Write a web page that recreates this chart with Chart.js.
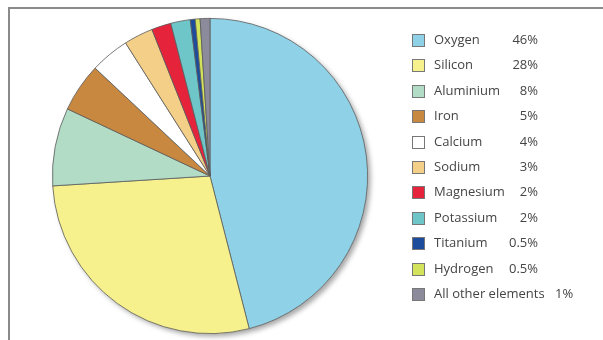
<!DOCTYPE html>
<html>
<head>
<meta charset="utf-8">
<script src="https://cdn.jsdelivr.net/npm/chart.js@4.4.1/dist/chart.umd.min.js"></script>
<style>
  html, body { margin: 0; padding: 0; background: #fff; }
  #wrap { position: relative; width: 603px; height: 340px; overflow: hidden; }
  #frame { position: absolute; left: 8px; top: 7px; width: 600px; height: 340px;
           border-left: 2px solid #8a8a8a; border-top: 2px solid #8a8a8a; }
  canvas { position: absolute; left: 0; top: 0; }
  #legend { position: absolute; left: 412px; top: 0; font-family: "Open Sans", sans-serif;
            font-size: 13px; color: #454545; }
  .row { position: absolute; left: 0; height: 16px; white-space: nowrap; }
  .box { position: absolute; left: 0; top: 2px; width: 11px; height: 11px; border: 1px solid #777; }
  .name { position: absolute; left: 22px; top: -2px; }
  .val { position: absolute; right: -126px; top: -2px; text-align: right; }
</style>
</head>
<body>
<div id="wrap">
  <div id="frame"></div>
  <canvas id="pie" width="603" height="340"></canvas>
  <div id="legend"></div>
</div>
<script>
// data
const elements = ['Oxygen', 'Silicon', 'Aluminium', 'Iron', 'Calcium', 'Sodium',
  'Magnesium', 'Potassium', 'Titanium', 'Hydrogen', 'All other elements'];
const percents = [46, 28, 8, 5, 4, 3, 2, 2, 0.5, 0.5, 1];
const colours = ['#8fd2e8', '#f6f18c', '#b2dcc6', '#c98840', '#ffffff', '#f4cf88',
  '#e5233b', '#6fc6c9', '#1d4c9c', '#d4e35c', '#8b8b9b'];

// legend (html, built from the arrays)
const legend = document.getElementById('legend');
elements.forEach((name, i) => {
  const row = document.createElement('div');
  row.className = 'row';
  row.style.top = (32 + i * 25.4) + 'px';
  const box = document.createElement('div');
  box.className = 'box';
  box.style.background = colours[i];
  row.appendChild(box);
  const label = document.createElement('span');
  label.className = 'name';
  label.textContent = name;
  row.appendChild(label);
  const val = document.createElement('span');
  val.textContent = percents[i] + '%';
  if (i === elements.length - 1) {
    // last row: value follows the long name
    val.style.position = 'absolute';
    val.style.left = '143px';
    val.style.top = '-2px';
  } else {
    val.className = 'val';
  }
  row.appendChild(val);
  legend.appendChild(row);
});

// soft shadow behind the pie
const pieShadow = {
  id: 'pieShadow',
  beforeDatasetsDraw(chart) {
    const arc = chart.getDatasetMeta(0).data[0];
    if (!arc) return;
    const ctx = chart.ctx;
    ctx.save();
    ctx.shadowColor = 'rgba(0,0,0,0.35)';
    ctx.shadowBlur = 5;
    ctx.shadowOffsetX = 3;
    ctx.shadowOffsetY = 3;
    ctx.fillStyle = '#fff';
    ctx.beginPath();
    ctx.arc(arc.x, arc.y, arc.outerRadius, 0, Math.PI * 2);
    ctx.fill();
    ctx.restore();
  }
};

new Chart(document.getElementById('pie'), {
  type: 'pie',
  data: {
    labels: elements,
    datasets: [{
      data: percents,
      backgroundColor: colours,
      borderColor: '#5a5a5a',
      borderWidth: 0.8
    }]
  },
  options: {
    responsive: false,
    animation: false,
    layout: { padding: { left: 52, right: 235, top: 18, bottom: 6 } },
    plugins: {
      legend: { display: false },
      tooltip: { enabled: false }
    }
  },
  plugins: [pieShadow]
});
</script>
</body>
</html>
